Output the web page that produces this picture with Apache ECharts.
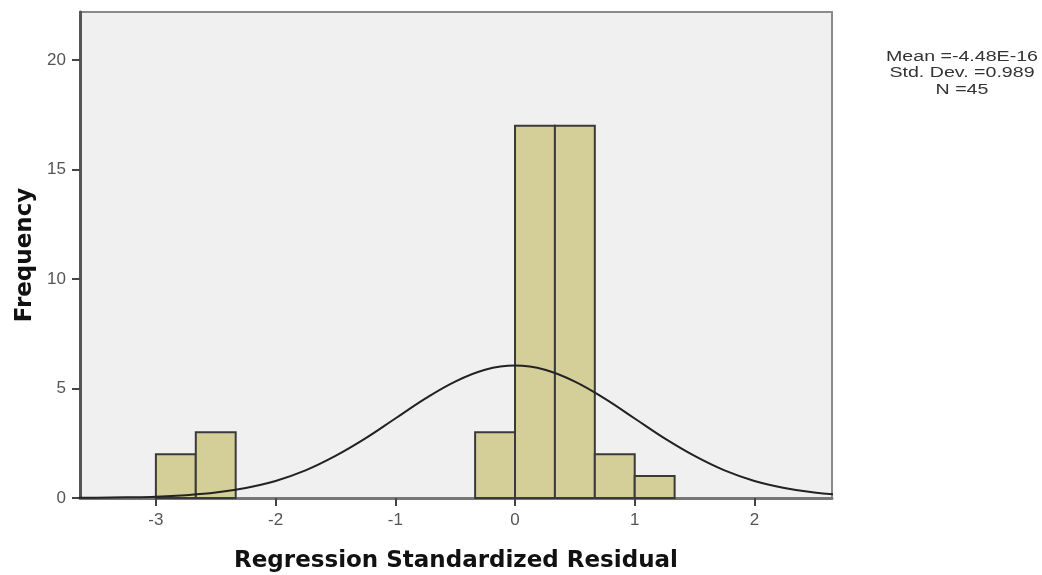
<!DOCTYPE html>
<html>
<head>
<meta charset="utf-8">
<script src="https://cdn.jsdelivr.net/npm/echarts@6/dist/echarts.min.js"></script>
<style>
  html, body { margin: 0; padding: 0; background: #fff; }
  #main { width: 1042px; height: 575px; }
</style>
</head>
<body>
<div id="main"></div>
<script>
// histogram bins (left edge, count), bin width is 1/3
var binStarts = [-3, -2.6667, -0.3333, 0, 0.3333, 0.6667, 1];
var binCounts = [2, 3, 3, 17, 17, 2, 1];
var binWidth = 0.3333;

// normal curve
var curveX = [-3.75, -3.5, -3.25, -3, -2.75, -2.5, -2.25, -2, -1.75, -1.5, -1.25, -1, -0.75, -0.5, -0.25, 0,
  0.25, 0.5, 0.75, 1, 1.25, 1.5, 1.75, 2, 2.25, 2.5, 2.75, 3];
var curveY = [0.005, 0.01, 0.03, 0.06, 0.13, 0.25, 0.46, 0.78, 1.26, 1.92, 2.72, 3.63, 4.54, 5.32, 5.86, 6.05,
  5.86, 5.32, 4.54, 3.63, 2.72, 1.92, 1.26, 0.78, 0.46, 0.25, 0.13, 0.06];

var xTicks = [-3, -2, -1, 0, 1, 2];
var yTicks = [0, 5, 10, 15, 20];
var statLines = ['Mean =-4.48E-16', 'Std. Dev. =0.989', 'N =45'];

var chart = echarts.init(document.getElementById('main'), null, { renderer: 'canvas' });

var barData = binStarts.map(function (s, i) { return [s, binCounts[i]]; });
var lineData = curveX.map(function (x, i) { return [x, curveY[i]]; });

var option = {
  animation: false,
  textStyle: { fontFamily: 'Liberation Sans, Arial, sans-serif' },
  grid: {
    left: 80, top: 12, right: 210, bottom: 77,
    outerBoundsMode: 'none',
    containLabel: false,
    show: true,
    backgroundColor: '#F0F0F0',
    borderColor: '#8a8a8a',
    borderWidth: 2
  },
  xAxis: {
    type: 'value',
    min: -3.634,
    max: 2.648,
    name: 'Regression Standardized Residual',
    nameLocation: 'middle',
    nameGap: 52,
    nameTextStyle: { fontFamily: 'DejaVu Sans', fontWeight: 'bold', fontSize: 23, color: '#111' },
    axisLine: { show: true, onZero: false, lineStyle: { color: '#777', width: 3 } },
    axisTick: { show: true, length: 8, customValues: xTicks, lineStyle: { color: '#444', width: 2 } },
    axisLabel: { customValues: xTicks, color: '#555', fontSize: 17, margin: 14 },
    splitLine: { show: false }
  },
  yAxis: {
    type: 'value',
    min: 0,
    max: 22.2,
    name: 'Frequency',
    nameLocation: 'middle',
    nameGap: 42,
    nameTextStyle: { fontFamily: 'DejaVu Sans', fontWeight: 'bold', fontSize: 23, color: '#111' },
    axisLine: { show: true, onZero: false, lineStyle: { color: '#555', width: 3 } },
    axisTick: { show: true, length: 8, customValues: yTicks, lineStyle: { color: '#444', width: 2 } },
    axisLabel: { customValues: yTicks, color: '#555', fontSize: 17, margin: 14 },
    splitLine: { show: false }
  },
  graphic: statLines.map(function (t, i) {
    return {
      type: 'text',
      x: 962,
      y: 50 + i * 16.5,
      scaleX: 1.4,
      style: { text: t, x: 0, y: 0, fill: '#333', fontSize: 14, fontFamily: 'Liberation Sans', align: 'center' }
    };
  }),
  series: [
    {
      type: 'custom',
      data: barData,
      renderItem: function (params, api) {
        var s = api.value(0);
        var p1 = api.coord([s, api.value(1)]);
        var p2 = api.coord([s + binWidth, 0]);
        return {
          type: 'rect',
          shape: { x: p1[0], y: p1[1], width: p2[0] - p1[0], height: p2[1] - p1[1] },
          style: { fill: '#D4CF98', stroke: '#3a3a3a', lineWidth: 2 }
        };
      },
      z: 2
    },
    {
      type: 'line',
      data: lineData,
      smooth: 0.4,
      showSymbol: false,
      clip: true,
      lineStyle: { color: '#222', width: 2 },
      z: 3
    }
  ]
};

chart.setOption(option);
</script>
</body>
</html>
